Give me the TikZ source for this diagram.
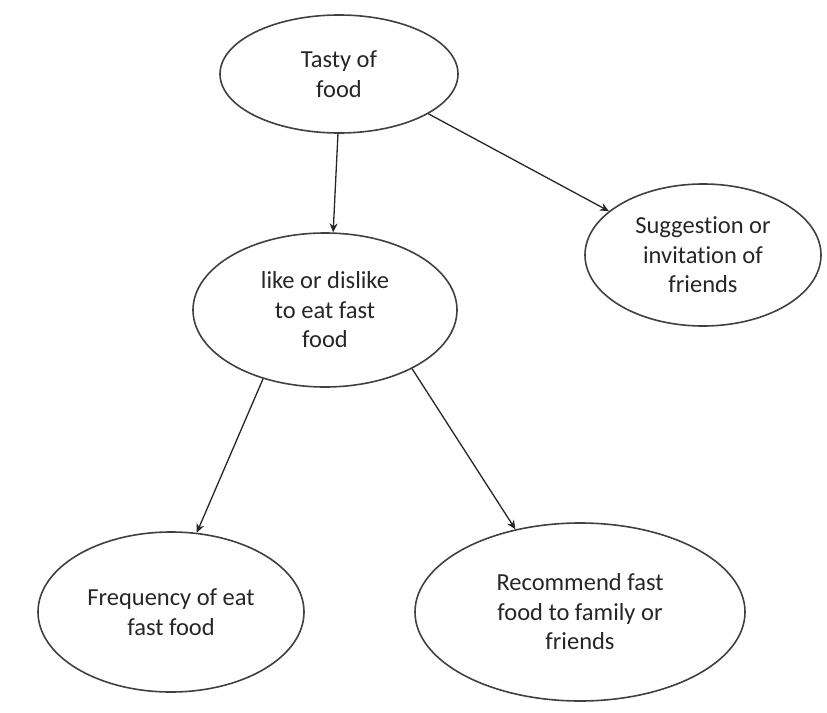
\documentclass[tikz,border=0pt]{standalone}
\usepackage{fontspec}
\setmainfont[Ligatures={NoCommon}]{Carlito}
\usetikzlibrary{shapes.geometric,arrows.meta}
\begin{document}
\begin{tikzpicture}[x=1pt,y=-1pt,
  bubble/.style={ellipse,draw=black!75,line width=1.6pt,inner sep=0pt,
    align=center,text=black!85,font=\fontsize{24.5}{29.5}\selectfont},
  link/.style={draw=black!85,line width=1.3pt,-{Stealth[length=9pt,width=8pt]}}]
\useasboundingbox (0,0) rectangle (827,712);
\node[bubble,minimum width=238pt,minimum height=118pt] (tasty) at (339,74) {Tasty of\\food};
\node[bubble,minimum width=236pt,minimum height=142pt] (sugg) at (703,255) {Suggestion or\\invitation of\\friends};
\node[bubble,minimum width=264pt,minimum height=154pt] (like) at (325,310) {like or dislike\\to eat fast\\food};
\node[bubble,minimum width=266pt,minimum height=160pt] (freq) at (171,612) {Frequency of eat\\fast food};
\node[bubble,minimum width=330pt,minimum height=178pt] (reco) at (580,612) {Recommend fast\\food to family or\\friends};
\draw[link] (tasty.269) -- (like.84);
\draw[link] (tasty.-24) -- (sugg.155);
\draw[link] (like.228) -- (freq.72);
\draw[link] (like.-34) -- (reco.128);
\end{tikzpicture}
\end{document}
